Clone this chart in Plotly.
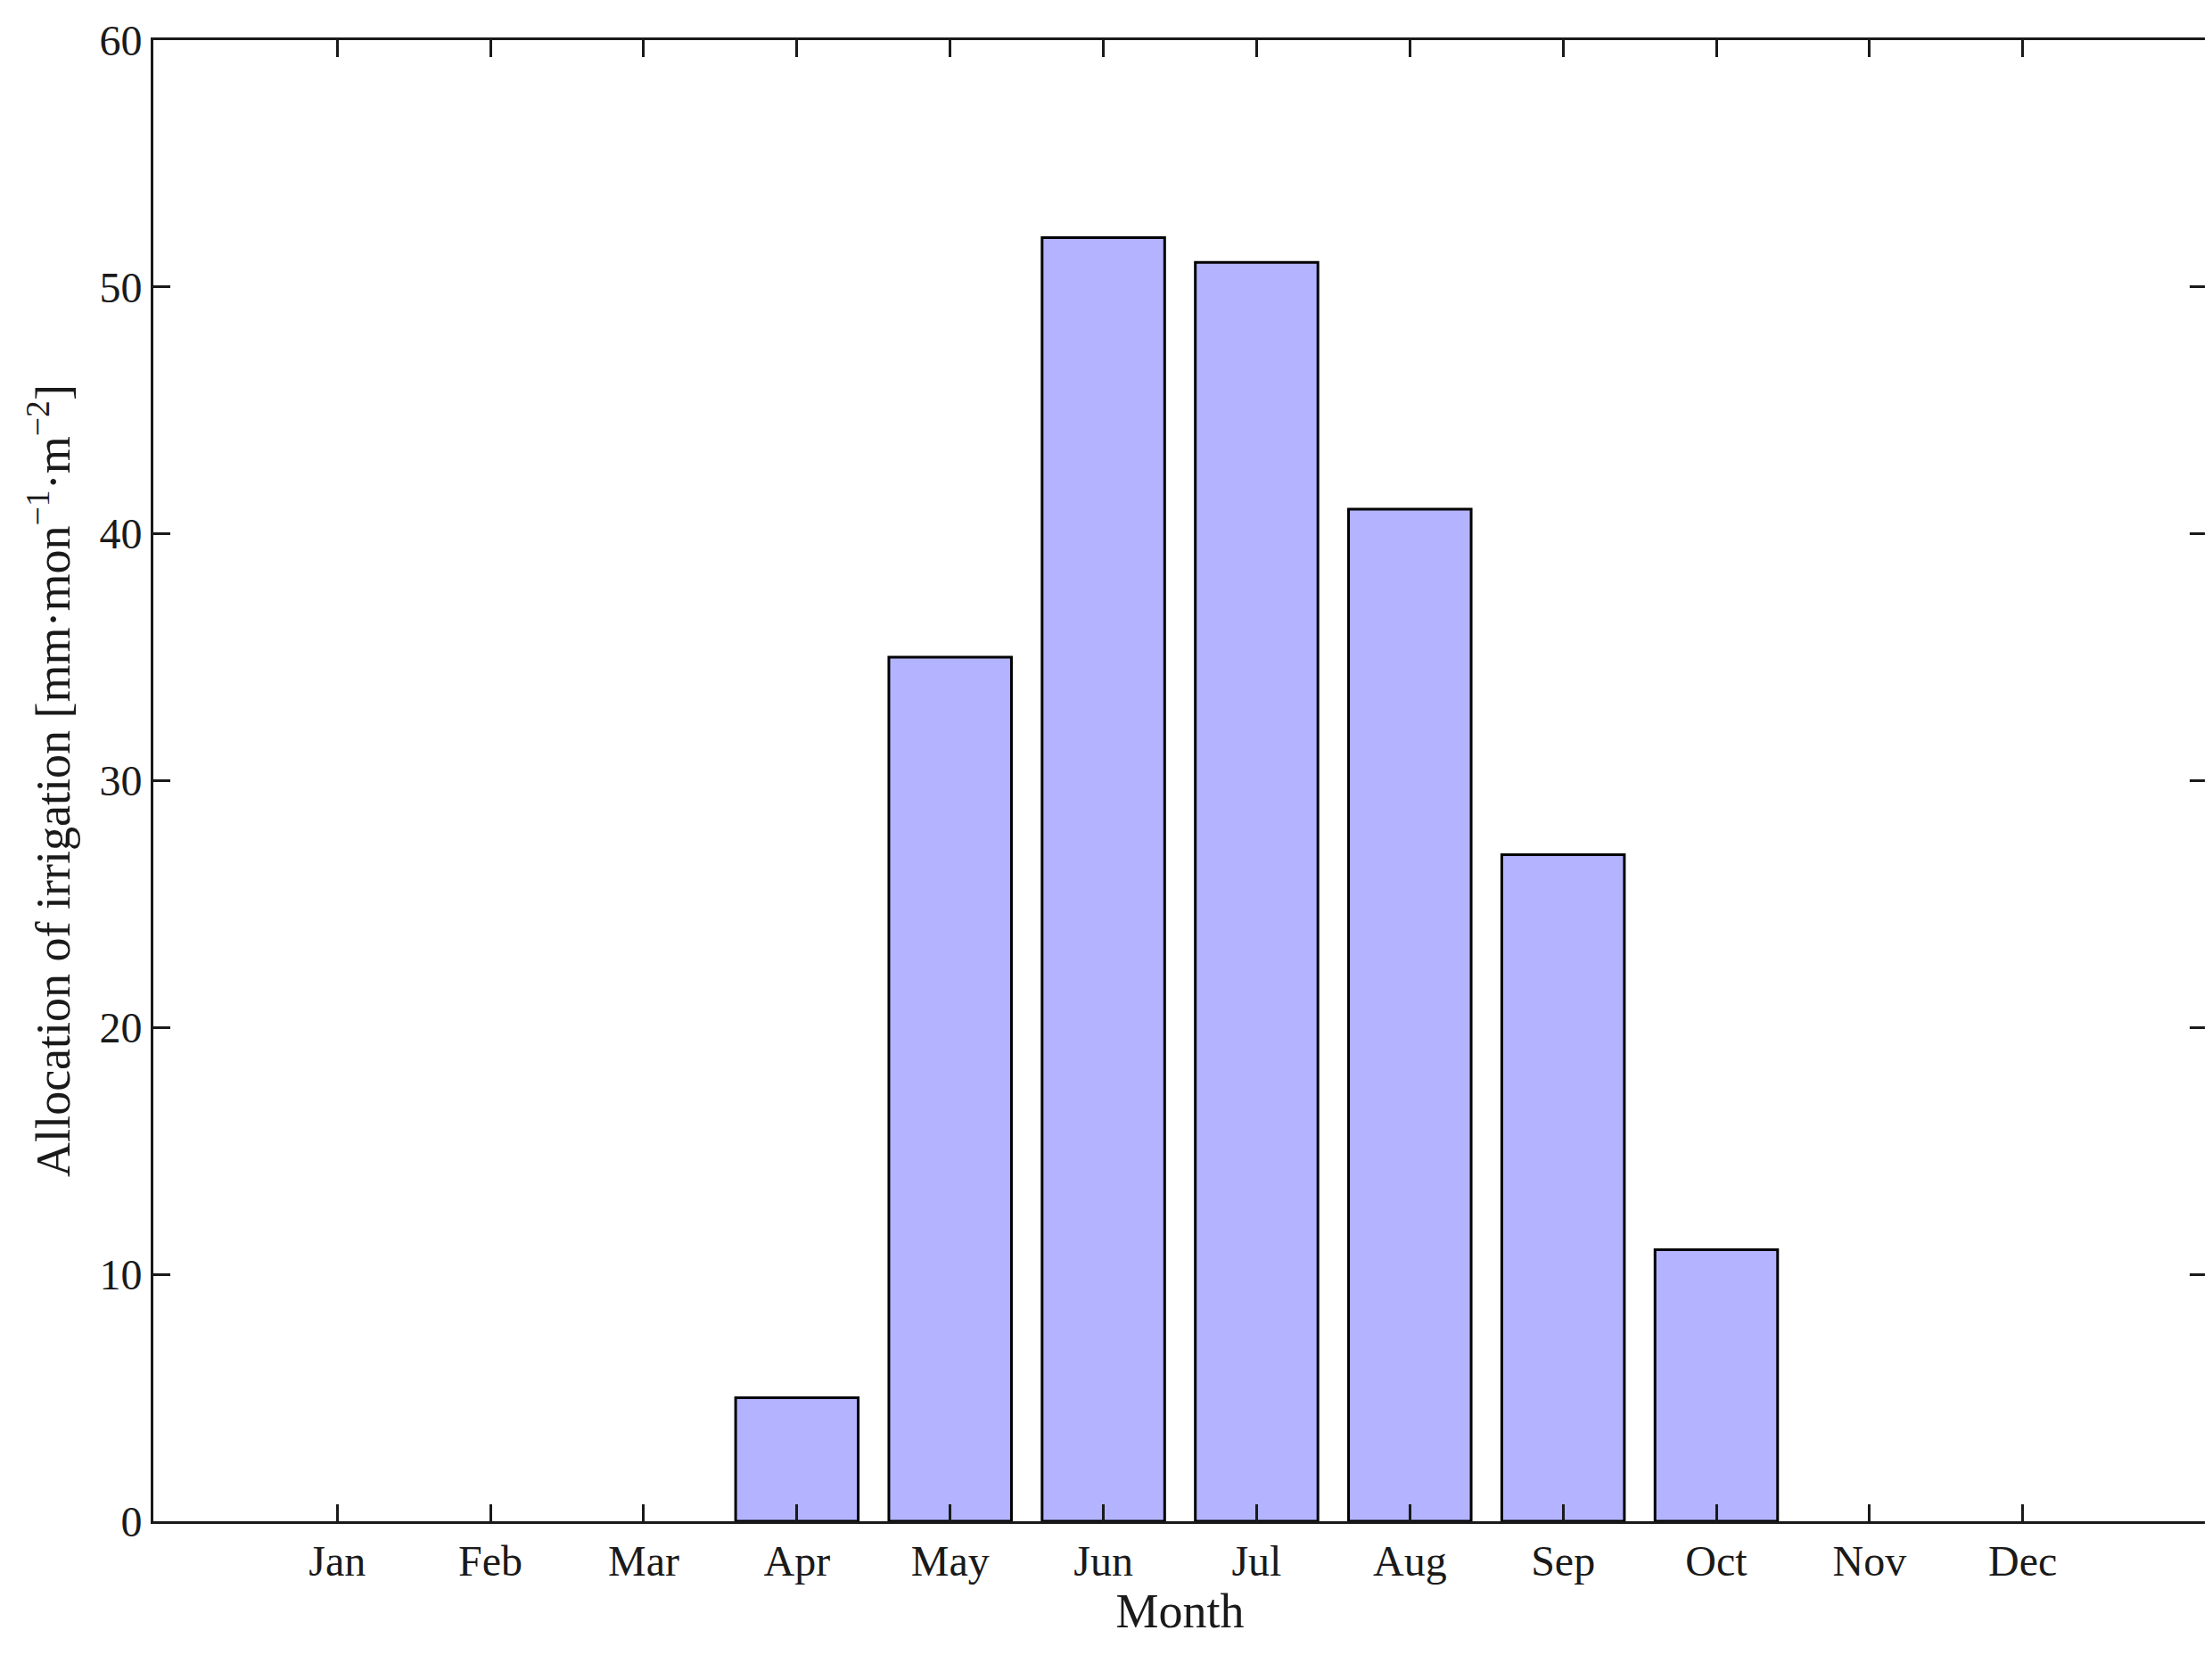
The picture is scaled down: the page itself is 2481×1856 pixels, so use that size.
import plotly.graph_objs as go

MONTHS = ["Jan", "Feb", "Mar", "Apr", "May", "Jun", "Jul", "Aug", "Sep", "Oct", "Nov", "Dec"]
IRRIGATION = [0, 0, 0, 5, 35, 52, 51, 41, 27, 11, 0, 0]
Y_TICKS = [0, 10, 20, 30, 40, 50, 60]

FONT = "Liberation Serif"
BAR_FILL = "#b3b3ff"
INK = "#1a1a1a"

# empty months draw no outline, as in the original
outline_widths = [3 if v > 0 else 0 for v in IRRIGATION]

fig = go.Figure()
fig.add_trace(go.Bar(
  x=list(range(len(MONTHS))), y=IRRIGATION, width=0.8,
  marker=dict(color=BAR_FILL, line=dict(color="black", width=outline_widths)),
))

axis_common = dict(
  showline=True, linecolor=INK, linewidth=3, mirror="ticks",
  ticks="inside", ticklen=19, tickwidth=3, tickcolor=INK,
  showgrid=False, zeroline=False,
  tickfont=dict(family=FONT, size=48, color=INK),
)

fig.update_xaxes(
  title_text="Month", title_font=dict(family=FONT, size=54, color=INK), title_standoff=6,
  tickmode="array", tickvals=list(range(len(MONTHS))), ticktext=MONTHS,
  range=[-1.2, 12.2], **axis_common
)
fig.update_yaxes(
  title_text="Allocation of irrigation [mm·mon<sup>−1</sup>·m<sup>−2</sup>]",
  title_font=dict(family=FONT, size=54, color=INK), title_standoff=16,
  tickmode="array", tickvals=Y_TICKS, range=[0, 60], **axis_common
)

fig.layout.update(
  width=2481, height=1856,
  margin=dict(l=164, r=11, t=33, b=158),
  plot_bgcolor="white", paper_bgcolor="white",
  showlegend=False,
)

fig.write_html("out.html")
